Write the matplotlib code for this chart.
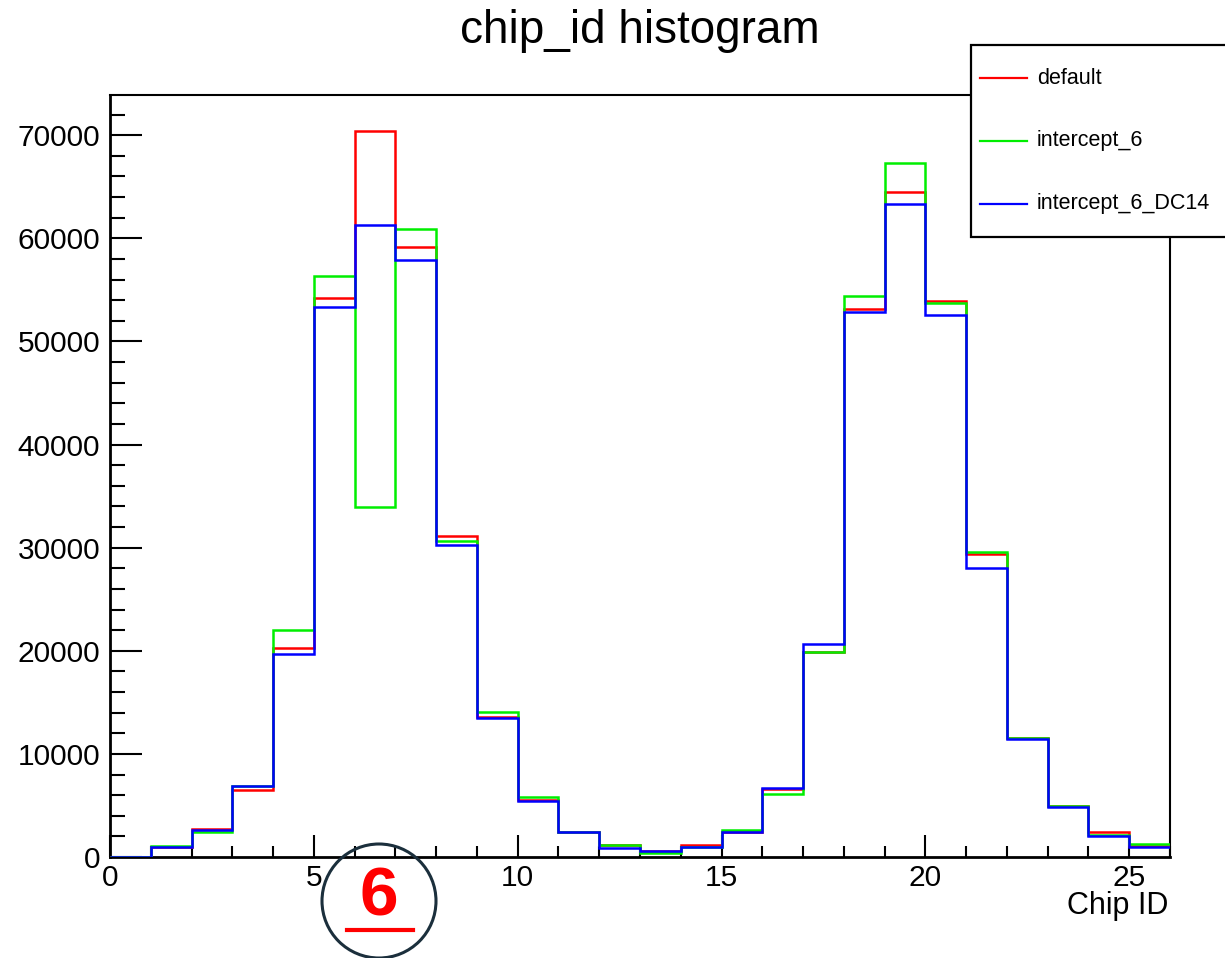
#!/usr/bin/env python3

import numpy as np
from matplotlib import pyplot as plt, patches as mpatches, lines as mlines
from matplotlib.ticker import MultipleLocator

# chip id bins 0..26, width 1
edges = np.arange(0, 27)
default = [0, 1000, 2700, 6500, 20300, 54200, 70400, 59200, 31100, 13600, 5500, 2400, 1150,
           550, 1150, 2450, 6600, 19900, 53100, 64500, 53900, 29400, 11500, 4950, 2400, 1100]
intercept6 = [0, 1100, 2400, 6900, 22000, 56300, 33900, 60900, 30600, 14100, 5800, 2400, 1150,
              420, 1000, 2650, 6100, 19900, 54400, 67300, 53700, 29600, 11500, 4900, 2100, 1250]
intercept6_dc14 = [0, 950, 2650, 6850, 19700, 53300, 61300, 57900, 30300, 13500, 5400, 2400, 850,
                   550, 1000, 2400, 6650, 20700, 52900, 63300, 52600, 28000, 11450, 4850, 2050, 1000]
labels = ['default', 'intercept_6', 'intercept_6_DC14']
colors = ['#ff0000', '#00ee00', '#0000ff']

plt.rcParams['font.family'] = ['Liberation Sans', 'DejaVu Sans']

W, H = 1225, 958
fig = plt.figure(figsize=(W / 100, H / 100), dpi=100)
ax = fig.add_axes([110 / W, 1 - 857 / H, 1060 / W, 762 / H])

for vals, c, lab in zip([default, intercept6, intercept6_dc14], colors, labels):
    ax.stairs(vals, edges, color=c, lw=1.8, baseline=None, label=lab, zorder=3)

ax.set_xlim(0, 26)
ax.set_ylim(0, 73900)

ax.xaxis.set_major_locator(MultipleLocator(5))
ax.xaxis.set_minor_locator(MultipleLocator(1))
ax.yaxis.set_major_locator(MultipleLocator(10000))
ax.yaxis.set_minor_locator(MultipleLocator(2000))
ax.tick_params(axis='x', which='major', direction='in', length=16, width=1.5, labelsize=21.5, pad=5)
ax.tick_params(axis='x', which='minor', direction='in', length=8, width=1.5)
ax.tick_params(axis='y', which='major', direction='in', length=23, width=1.5, labelsize=21.5, pad=7)
ax.tick_params(axis='y', which='minor', direction='in', length=11, width=1.5)
for s in ax.spines.values():
    s.set_linewidth(1.5)
ax.spines['left'].set_linewidth(2)
ax.spines['bottom'].set_linewidth(2)

ax.set_xlabel('Chip ID', fontsize=22, loc='right', va='top')
ax.xaxis.set_label_coords(0.998, -0.045)

fig.text(640 / W, 1 - 43 / H, 'chip_id histogram', fontsize=33, ha='center', va='baseline')

# legend box, top right, running off the figure edge
fig.add_artist(mpatches.Rectangle((971 / W, 1 - 237 / H), 280 / W, 192 / H,
                                  transform=fig.transFigure, fill=True, facecolor='white',
                                  edgecolor='black', lw=1.6, zorder=5))
for i, (c, lab) in enumerate(zip(colors, labels)):
    yy = 1 - (78 + 63 * i) / H
    fig.add_artist(mlines.Line2D([980 / W, 1027 / W], [yy, yy], color=c, lw=1.6,
                                 transform=fig.transFigure, zorder=6))
    fig.text(1037 / W, yy, lab, fontsize=15.5, ha='left', va='center', zorder=6)

# circled page marker
fig.add_artist(mpatches.Ellipse((379 / W, 1 - 901 / H), 114 / W, 114 / H, transform=fig.transFigure,
                                fill=False, edgecolor='#1b2f3c', lw=2.2))
fig.text(379 / W, 1 - 898 / H, '6', fontsize=50, fontweight='bold', color='#ff0000',
         ha='center', va='center')
fig.add_artist(mlines.Line2D([347 / W, 413 / W], [1 - 930 / H, 1 - 930 / H], color='#ff0000',
                             lw=3, transform=fig.transFigure))

plt.savefig('out.png', dpi=100)
